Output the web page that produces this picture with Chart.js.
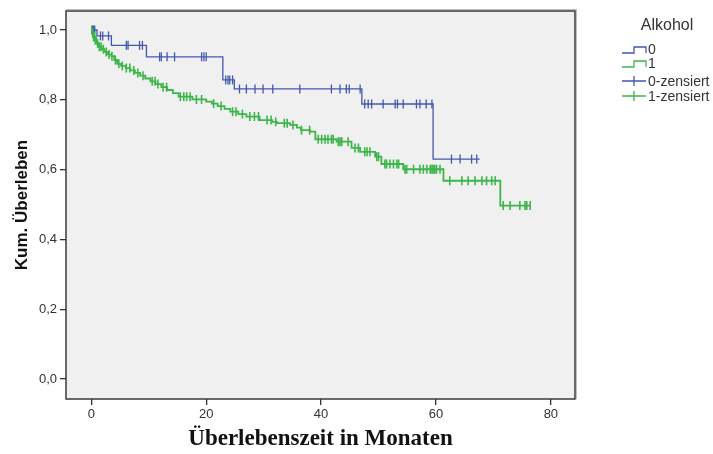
<!DOCTYPE html>
<html>
<head>
<meta charset="utf-8">
<script src="https://cdn.jsdelivr.net/npm/chart.js@4.4.0/dist/chart.umd.min.js"></script>
<style>
  html, body { margin: 0; padding: 0; background: #fff; }
</style>
</head>
<body>
<canvas id="kmChart" width="713" height="454"></canvas>
<script>
// Kaplan-Meier nach Alkohol (0 / 1)
const legendTitle = "Alkohol";
const groupLabels = ["0", "1", "0-zensiert", "1-zensiert"];
const xTicks = [0, 20, 40, 60, 80];
const yTicks = [0, 0.2, 0.4, 0.6, 0.8, 1.0];

// Gruppe 0 (blau)
const blueTimes = [0, 1.0, 3.5, 9.6, 22.9, 24.9, 47.1, 59.5];
const blueSurv = [1.0, 0.983, 0.956, 0.923, 0.857, 0.831, 0.788, 0.630];
const blueEnd = 67.6;
const blueCensored = [0.2, 0.4, 0.6, 1.6, 2.0, 3.0, 6.1, 6.4, 8.4, 8.9, 11.9, 12.2, 13.2,
  14.5, 19.2, 19.6, 20.0, 23.4, 23.8, 24.1, 24.6, 25.8, 27.0, 28.5, 29.9, 31.6, 36.3,
  41.8, 43.3, 44.4, 44.9, 46.8, 47.6, 48.2, 48.8, 50.8, 52.9, 53.3, 54.3, 56.6, 57.2,
  58.3, 59.3, 62.7, 64.2, 66.2, 67.1];

// Gruppe 1 (grün)
const greenTimes = [0, 0.2, 0.4, 0.6, 0.9, 1.3, 1.8, 2.3, 2.9, 3.5, 4.0, 4.5, 5.2, 6.0, 6.8,
  7.6, 8.5, 9.4, 10.3, 11.2, 12.2, 13.2, 14.2, 15.2, 17.6, 20.0, 21.0, 22.0, 23.2, 24.2,
  25.6, 27.0, 29.3, 31.5, 32.3, 34.6, 35.8, 36.5, 38.1, 39.0, 42.7, 45.3, 46.8, 49.4,
  50.5, 54.3, 61.3, 71.2];
const greenSurv = [1.0, 0.99, 0.98, 0.971, 0.962, 0.952, 0.945, 0.937, 0.930, 0.925, 0.914,
  0.903, 0.897, 0.891, 0.884, 0.877, 0.869, 0.861, 0.853, 0.845, 0.836, 0.828, 0.819,
  0.809, 0.801, 0.795, 0.789, 0.782, 0.774, 0.766, 0.759, 0.752, 0.742, 0.737, 0.733,
  0.728, 0.720, 0.713, 0.709, 0.687, 0.680, 0.662, 0.651, 0.637, 0.616, 0.601, 0.568,
  0.497];
const greenEnd = 76.4;
const greenCensored = [0.1, 0.25, 0.4, 0.55, 0.7, 0.85, 1.1, 1.4, 1.7, 2.1, 2.6, 3.1, 3.6,
  4.2, 4.8, 5.4, 6.1, 6.7, 7.4, 8.1, 9.0, 10.6, 11.1, 11.6, 12.5, 13.1, 15.5, 16.1, 16.6,
  17.2, 18.3, 19.2, 21.3, 22.6, 24.6, 25.2, 26.3, 27.6, 28.4, 29.1, 30.6, 31.3, 32.1,
  33.6, 34.1, 35.1, 36.6, 38.0, 39.5, 40.1, 40.7, 41.2, 41.8, 42.1, 43.0, 43.3, 43.6,
  44.7, 45.9, 46.5, 47.6, 48.0, 48.5, 49.7, 50.0, 51.1, 51.4, 52.0, 52.6, 53.2, 53.5,
  54.6, 54.9, 56.1, 57.2, 57.8, 58.4, 59.0, 59.3, 59.5, 59.8, 60.1, 60.7, 62.4, 64.5,
  65.6, 66.8, 68.0, 68.8, 69.7, 70.3, 71.7, 72.9, 74.6, 75.5, 75.8, 76.4];

const blueColor = "#4257ad";
const greenColor = "#3db54a";

function stepPoints(times, surv, end) {
  const pts = times.map((t, i) => ({ x: t, y: surv[i] }));
  pts.push({ x: end, y: surv[surv.length - 1] });
  return pts;
}

// Zensierungen sitzen auf der jeweiligen Stufe der Kurve
function censorPoints(censored, times, surv) {
  return censored.map(t => {
    let s = surv[0];
    for (let i = 0; i < times.length; i++) {
      if (times[i] <= t) s = surv[i];
    }
    return { x: t, y: s };
  });
}

const plotArea = {
  id: "plotArea",
  beforeDatasetsDraw(chart) {
    const { ctx, chartArea: a } = chart;
    ctx.save();
    ctx.fillStyle = "#f0f0f0";
    ctx.fillRect(a.left, a.top, a.right - a.left, a.bottom - a.top);
    ctx.restore();
  },
  afterDraw(chart) {
    const { ctx, chartArea: a } = chart;
    ctx.save();
    ctx.strokeStyle = "#bdbdbd";
    ctx.lineWidth = 1;
    ctx.beginPath();
    ctx.moveTo(a.left, a.top - 1.5);
    ctx.lineTo(a.right + 1.5, a.top - 1.5);
    ctx.lineTo(a.right + 1.5, a.bottom);
    ctx.stroke();
    ctx.strokeStyle = "#3a3a3a";
    ctx.lineWidth = 1.5;
    ctx.strokeRect(a.left, a.top, a.right - a.left, a.bottom - a.top);

    // Legende
    ctx.fillStyle = "#333";
    ctx.textBaseline = "middle";
    ctx.textAlign = "center";
    ctx.font = '16px "Liberation Sans", Arial, sans-serif';
    ctx.fillText(legendTitle, 667, 26);
    ctx.textAlign = "left";
    ctx.font = '14px "Liberation Sans", Arial, sans-serif';
    const rows = [49, 63, 81, 96];
    const cols = [blueColor, greenColor, blueColor, greenColor];
    rows.forEach((y, i) => {
      ctx.strokeStyle = cols[i];
      ctx.lineWidth = 1.3;
      ctx.beginPath();
      if (i < 2) {
        ctx.moveTo(622, y + 4);
        ctx.lineTo(634, y + 4);
        ctx.lineTo(634, y - 2);
        ctx.lineTo(646, y - 2);
        ctx.lineTo(646, y + 4);
      } else {
        ctx.moveTo(622, y);
        ctx.lineTo(646, y);
        ctx.moveTo(634, y - 5);
        ctx.lineTo(634, y + 5);
      }
      ctx.stroke();
      ctx.fillText(groupLabels[i], 648, y + 1);
    });
    ctx.restore();
  }
};

new Chart(document.getElementById("kmChart"), {
  type: "line",
  data: {
    datasets: [
      {
        label: groupLabels[3],
        data: censorPoints(greenCensored, greenTimes, greenSurv),
        showLine: false,
        pointStyle: "line",
        rotation: 90,
        pointRadius: 4.5,
        borderColor: greenColor,
        borderWidth: 1.6
      },
      {
        label: groupLabels[1],
        data: stepPoints(greenTimes, greenSurv, greenEnd),
        stepped: "before",
        borderColor: greenColor,
        borderWidth: 1.8,
        pointRadius: 0,
        fill: false
      },
      {
        label: groupLabels[2],
        data: censorPoints(blueCensored, blueTimes, blueSurv),
        showLine: false,
        pointStyle: "line",
        rotation: 90,
        pointRadius: 4.5,
        borderColor: blueColor,
        borderWidth: 1.3
      },
      {
        label: groupLabels[0],
        data: stepPoints(blueTimes, blueSurv, blueEnd),
        stepped: "before",
        borderColor: blueColor,
        borderWidth: 1.3,
        pointRadius: 0,
        fill: false
      }
    ]
  },
  options: {
    responsive: false,
    animation: false,
    layout: { padding: { top: 11, right: 138, left: 0, bottom: 0 } },
    plugins: {
      legend: { display: false },
      tooltip: { enabled: false }
    },
    scales: {
      x: {
        type: "linear",
        min: -4.4,
        max: 84.2,
        afterBuildTicks: s => { s.ticks = xTicks.map(v => ({ value: v })); },
        afterFit: s => { s.height = 55; },
        grid: { drawOnChartArea: false, tickLength: 6, color: "#333", lineWidth: 1.3 },
        border: { display: false },
        ticks: {
          color: "#333",
          padding: 2,
          maxRotation: 0,
          font: { family: '"Liberation Sans", Arial, sans-serif', size: 13 }
        },
        title: {
          display: true,
          text: "Überlebenszeit in Monaten",
          color: "#111",
          padding: { top: 0, bottom: 1 },
          font: { family: '"Liberation Serif", "Times New Roman", serif', size: 23, weight: "bold" }
        }
      },
      y: {
        min: -0.0573,
        max: 1.0544,
        afterBuildTicks: s => { s.ticks = yTicks.map(v => ({ value: v })); },
        afterFit: s => { s.width = 66; },
        grid: { drawOnChartArea: false, tickLength: 6, color: "#333", lineWidth: 1.3 },
        border: { display: false },
        ticks: {
          color: "#333",
          padding: 3,
          font: { family: '"Liberation Sans", Arial, sans-serif', size: 13 },
          callback: v => v.toFixed(1).replace(".", ",")
        },
        title: {
          display: true,
          text: "Kum. Überleben",
          color: "#111",
          padding: { top: 12, bottom: 0 },
          font: { family: '"Liberation Sans", Arial, sans-serif', size: 17, weight: "bold" }
        }
      }
    }
  },
  plugins: [plotArea]
});
</script>
</body>
</html>
